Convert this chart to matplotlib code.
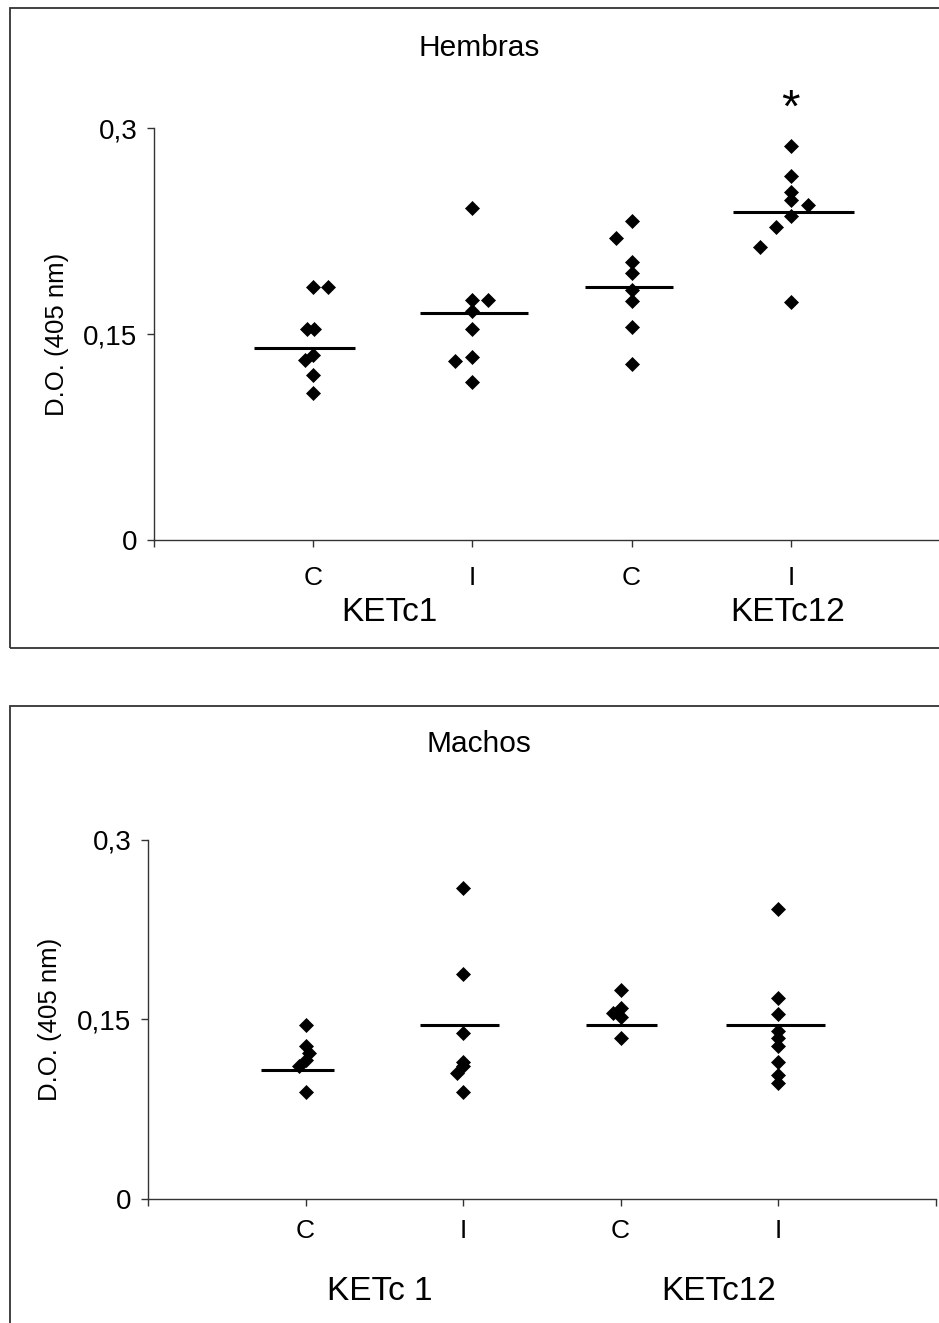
import matplotlib.pyplot as plt
from matplotlib.patches import Rectangle
import matplotlib.transforms as mtransforms

plt.rcParams['font.family'] = ['Liberation Sans', 'DejaVu Sans']

# --- datos ---
grupos = ['C', 'I', 'C', 'I']
cepas_hembras = ['KETc1', 'KETc12']
cepas_machos = ['KETc 1', 'KETc12']
y_ticks = [0, 0.15, 0.3]
y_ticklabels = ['0', '0,15', '0,3']

# Hembras, D.O. (405 nm)
hem_c1 = [0.184, 0.184, 0.154, 0.154, 0.135, 0.131, 0.120, 0.107]
hem_i1 = [0.2415, 0.175, 0.175, 0.167, 0.154, 0.133, 0.130, 0.115]
hem_c12 = [0.2325, 0.220, 0.2026, 0.1946, 0.182, 0.174, 0.155, 0.128]
hem_i12 = [0.287, 0.265, 0.2536, 0.2476, 0.244, 0.236, 0.228, 0.213, 0.173]
hem_media = [0.140, 0.165, 0.184, 0.239]

# Machos, D.O. (405 nm)
mac_c1 = [0.1454, 0.1273, 0.122, 0.1162, 0.1106, 0.0897]
mac_i1 = [0.2594, 0.1877, 0.1384, 0.1147, 0.1106, 0.105, 0.0897]
mac_c12 = [0.1746, 0.1593, 0.155, 0.152, 0.1343]
mac_i12 = [0.2419, 0.1677, 0.1543, 0.1398, 0.1343, 0.1279, 0.1142, 0.1036, 0.0967]
mac_media = [0.108, 0.145, 0.145, 0.145]

# desplazamiento horizontal de los puntos superpuestos
hem_dx = [[0, 0.095, -0.04, 0.005, 0, -0.05, 0, 0],
          [0, 0, 0.095, 0, 0, 0, -0.11, 0],
          [0, -0.10, 0, 0, 0, 0, 0, 0],
          [0, 0, 0, 0, 0.105, 0, -0.09, -0.195, 0]]
mac_dx = [[0, 0, 0.025, 0, -0.04, 0],
          [0, 0, 0, 0, 0, -0.04, 0],
          [0, 0, -0.05, 0, 0],
          [0, 0, 0, 0, 0, 0, 0, 0, 0]]

# extremos de las lineas de media
hem_barras = [(0.63, 1.26), (1.67, 2.35), (2.71, 3.26), (3.64, 4.40)]
mac_barras = [(0.72, 1.18), (1.73, 2.23), (2.78, 3.23), (3.67, 4.30)]

W, H = 939, 1323
fig = plt.figure(figsize=(W / 100, H / 100), dpi=100)
fig.patch.set_facecolor('white')

# recuadros exteriores (recortados a la derecha)
fig.add_artist(Rectangle((10 / W, 1 - 648 / H), 1.2, 640 / H, transform=fig.transFigure,
                         fill=False, edgecolor='#333333', lw=1.3))
fig.add_artist(Rectangle((10 / W, -0.2), 1.2, 0.2 + 1 - 706 / H, transform=fig.transFigure,
                         fill=False, edgecolor='#333333', lw=1.3))


def panel(ax, series, dx, medias, barras, cepas, cepas_x, cepas_y, xpad):
    for i, vals in enumerate(series):
        xs = [i + 1 + d for d in dx[i]]
        ax.plot(xs, vals, 'D', color='black', ms=7.5, mew=0.5, lw=0, clip_on=False)
        ax.hlines(medias[i], barras[i][0], barras[i][1], color='black', lw=2.2)
    ax.set_xlim(0, 5)
    ax.set_ylim(0, 0.3)
    ax.set_xticks([0, 1, 2, 3, 4, 5])
    ax.set_xticklabels([''] + grupos + [''])
    ax.set_yticks(y_ticks)
    ax.set_yticklabels(y_ticklabels)
    ax.tick_params(axis='y', direction='out', length=5, width=1, color='#333333',
                   labelsize=20, pad=7)
    ax.tick_params(axis='x', direction='out', length=5, width=1, color='#333333',
                   labelsize=19, pad=xpad)
    for s in ['top', 'right']:
        ax.spines[s].set_visible(False)
    for s in ['left', 'bottom']:
        ax.spines[s].set_color('#333333')
        ax.spines[s].set_linewidth(1.0)
    trans = mtransforms.blended_transform_factory(ax.transData, ax.transAxes)
    for nombre, xc in zip(cepas, cepas_x):
        ax.text(xc, cepas_y, nombre, transform=trans, ha='center', va='center', fontsize=24)


ax1 = fig.add_axes([154 / W, 1 - 540 / H, (950 - 154) / W, 412 / H])
panel(ax1, [hem_c1, hem_i1, hem_c12, hem_i12], hem_dx, hem_media, hem_barras,
      cepas_hembras, [1.48, 3.98], -0.177, 13.5)
ax1.text(4, 0.3045, '*', ha='center', va='baseline', fontsize=34, clip_on=False)

ax2 = fig.add_axes([148 / W, 1 - 1199 / H, 787.5 / W, 359.5 / H])
panel(ax2, [mac_c1, mac_i1, mac_c12, mac_i12], mac_dx, mac_media, mac_barras,
      cepas_machos, [1.47, 3.62], -0.258, 9.5)

fig.text(479 / W, 1 - 47.5 / H, 'Hembras', ha='center', va='center', fontsize=21.5)
fig.text(479 / W, 1 - 744 / H, 'Machos', ha='center', va='center', fontsize=21.5)
fig.text(57 / W, 1 - 334 / H, 'D.O. (405 nm)', rotation=90, ha='center', va='center', fontsize=18.5)
fig.text(50 / W, 1 - 1019 / H, 'D.O. (405 nm)', rotation=90, ha='center', va='center', fontsize=18.5)

fig.savefig('out.png', dpi=100)
